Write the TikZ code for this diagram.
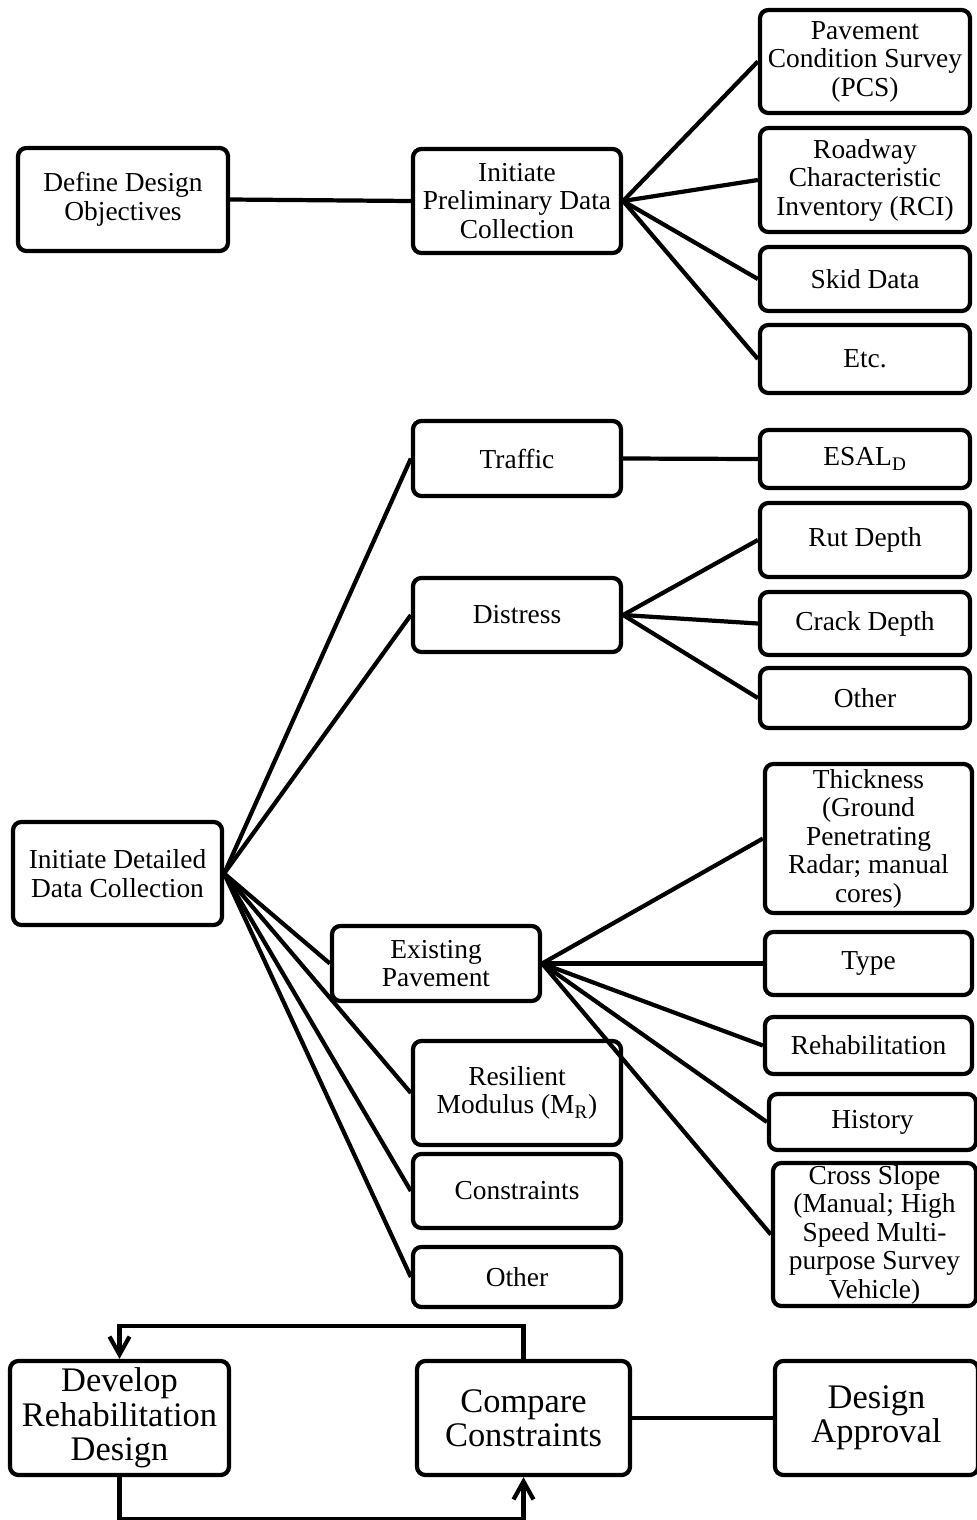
\documentclass[tikz,border=0pt]{standalone}
\usepackage{fontspec}
\setmainfont{Liberation Serif}
\usetikzlibrary{positioning, calc, arrows.meta}

\begin{document}
\begin{tikzpicture}[x=0.025cm, y=-0.025cm, line width=3pt,
    box/.style={draw, rounded corners=6pt, align=center, inner sep=0pt,
        minimum width=5.2cm, font=\fontsize{19.5}{20.3}\selectfont},
    bigbox/.style={box, minimum height=2.85cm, font=\fontsize{24.5}{24.5}\selectfont},
    feedback/.style={-{Straight Barb[length=4.5mm, width=5mm]}}]
    \useasboundingbox (0,0) rectangle (976,1520);
    \node[box, minimum width=5.25cm, minimum height=2.575cm] (def) at (123,199.5) {Define Design\\Objectives};
    \node[box, minimum height=2.6cm] (pre) at (517,201) {Initiate\\Preliminary Data\\Collection};
    \node[box, minimum width=5.25cm, minimum height=2.575cm] (pcs) at (865,61.5) {Pavement\\Condition Survey\\(PCS)};
    \node[box, minimum width=5.25cm, minimum height=2.6cm] (rci) at (865,180) {Roadway\\Characteristic\\Inventory (RCI)};
    \node[box, minimum width=5.25cm, minimum height=1.6cm] (skid) at (865,279) {Skid Data};
    \node[box, minimum width=5.25cm, minimum height=1.7cm] (etc) at (865,359) {Etc.};
    \draw (def.east) -- (pre.west);
    \draw (pre.east) -- (pcs.west);
    \draw (pre.east) -- (rci.west);
    \draw (pre.east) -- (skid.west);
    \draw (pre.east) -- (etc.west);

    \node[box, minimum height=1.875cm] (traffic) at (517,458.5) {Traffic};
    \node[box, minimum width=5.25cm, minimum height=1.45cm] (esal) at (865,459) {ESAL\textsubscript{D}};
    \node[box, minimum height=1.85cm] (dist) at (517,615) {Distress};
    \node[box, minimum width=5.25cm, minimum height=1.85cm] (rut) at (865,540) {Rut Depth};
    \node[box, minimum width=5.25cm, minimum height=1.575cm] (crack) at (865,623.5) {Crack Depth};
    \node[box, minimum width=5.25cm, minimum height=1.5cm] (othdist) at (865,698) {Other};
    \draw (traffic.east) -- (esal.west);
    \draw (dist.east) -- (rut.west);
    \draw (dist.east) -- (crack.west);
    \draw (dist.east) -- (othdist.west);

    \node[box, minimum width=5.225cm, minimum height=2.575cm] (det) at (117.5,873.5) {Initiate Detailed\\Data Collection};
    \node[box, minimum height=1.875cm] (exist) at (436,963.5) {Existing\\Pavement};
    \node[box, minimum height=2.6cm] (res) at (517,1093) {Resilient\\Modulus (M\textsubscript{R})};
    \node[box, minimum height=1.85cm] (cons) at (517,1191) {Constraints};
    \node[box, minimum height=1.5cm] (othdet) at (517,1277) {Other};
    \draw (det.east) -- (traffic.west);
    \draw (det.east) -- (dist.west);
    \draw (det.east) -- (exist.west);
    \draw (det.east) -- (res.west);
    \draw (det.east) -- (cons.west);
    \draw (det.east) -- (othdet.west);

    \node[box, minimum width=5.175cm, minimum height=3.725cm] (thick) at (868.5,838.5) {Thickness\\(Ground\\Penetrating\\Radar; manual\\cores)};
    \node[box, minimum width=5.175cm, minimum height=1.575cm] (type) at (868.5,963.5) {Type};
    \node[box, minimum width=5.175cm, minimum height=1.425cm] (rehab) at (868.5,1045.5) {Rehabilitation};
    \node[box, minimum width=5.175cm, minimum height=1.4cm] (hist) at (872.5,1122) {History};
    \node[box, minimum width=5.075cm, minimum height=3.575cm] (cross) at (874.5,1234.5) {Cross Slope\\(Manual; High\\Speed Multi-\\purpose Survey\\Vehicle)};
    \draw (exist.east) -- (thick.west);
    \draw (exist.east) -- (type.west);
    \draw (exist.east) -- (rehab.west);
    \draw (exist.east) -- (hist.west);
    \draw (exist.east) -- (cross.west);

    \node[bigbox, minimum width=5.475cm] (dev) at (119.5,1418) {Develop\\Rehabilitation\\Design};
    \node[bigbox, minimum width=5.325cm] (cmp) at (523.5,1418) {Compare\\Constraints};
    \node[bigbox, minimum width=5.075cm] (appr) at (876.5,1418) {Design\\Approval};
    \draw[feedback] (cmp.north) -- ++(0,-33) -| (dev.north);
    \draw[feedback] (dev.south) -- ++(0,42) -| (cmp.south);
    \draw (cmp.east) -- (appr.west);
\end{tikzpicture}
\end{document}
